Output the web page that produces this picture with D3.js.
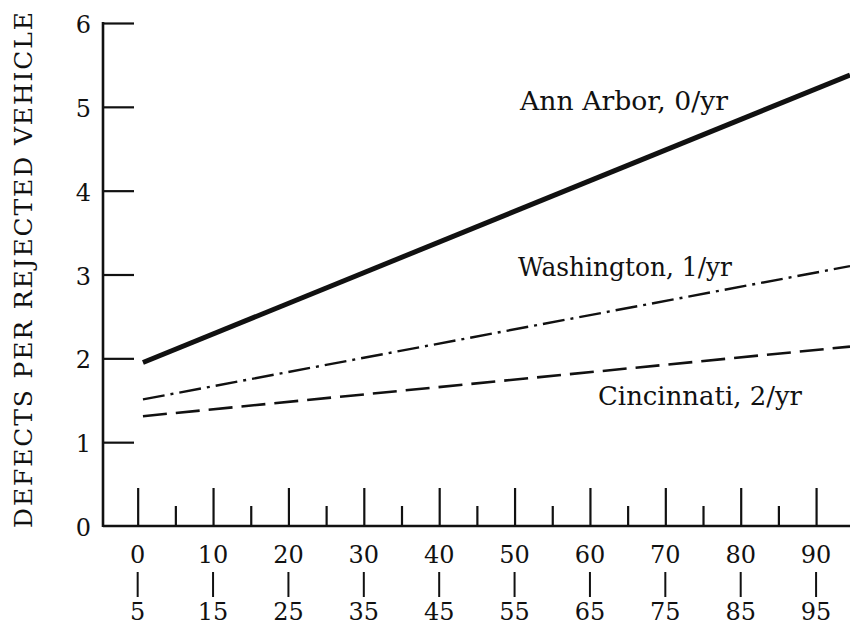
<!DOCTYPE html>
<html>
<head>
<meta charset="utf-8">
<script src="https://cdn.jsdelivr.net/npm/d3@7"></script>
<style>
  html, body { margin: 0; padding: 0; background: #fff; }
  svg { display: block; }
  text { font-family: "DejaVu Serif", serif; fill: #111; }
</style>
</head>
<body>
<svg id="chart" width="850" height="626"></svg>
<script>
// ---- data ----
const yTicks = [0, 1, 2, 3, 4, 5, 6];
const xMajorTicks = [0, 10, 20, 30, 40, 50, 60, 70, 80, 90];
const xMinorTicks = [5, 15, 25, 35, 45, 55, 65, 75, 85];
const xTopLabels = ["0", "10", "20", "30", "40", "50", "60", "70", "80", "90"];
const xBottomLabels = ["5", "15", "25", "35", "45", "55", "65", "75", "85", "95"];
const seriesNames = ["Ann Arbor, 0/yr", "Washington, 1/yr", "Cincinnati, 2/yr"];
const annArbor = [[0.7, 1.95], [94.5, 5.38]];
const washington = [[0.7, 1.51], [94.5, 3.10]];
const cincinnati = [[0.7, 1.31], [94.5, 2.14]];
const yTitle = "DEFECTS PER REJECTED VEHICLE";

// ---- layout ----
const svg = d3.select("#chart");
const x = d3.scaleLinear().domain([-4.6, 94.5]).range([103, 850]);
const y = d3.scaleLinear().domain([0, 6]).range([526, 23]);
const ink = "#111";

// y axis
const yAxis = d3.axisLeft(y).tickValues(yTicks).tickSize(-31).tickPadding(12).tickFormat(d3.format("d"));
const gy = svg.append("g").attr("transform", `translate(${x(-4.6)},0)`).call(yAxis);
gy.select(".domain").remove();
gy.selectAll(".tick line").attr("stroke", ink).attr("stroke-width", 2.2)
  .filter(d => d === 0).remove();
gy.selectAll(".tick text").attr("font-size", 24).attr("font-family", "DejaVu Serif").attr("fill", ink).attr("dy", "0.4em");
svg.append("line").attr("x1", x(-4.6)).attr("x2", x(-4.6)).attr("y1", y(6) - 1).attr("y2", y(0) + 1)
  .attr("stroke", ink).attr("stroke-width", 2.6);

// x axis (ticks pointing up)
const gxMajor = svg.append("g").attr("transform", `translate(0,${y(0)})`)
  .call(d3.axisBottom(x).tickValues(xMajorTicks).tickSize(-38).tickFormat(""));
gxMajor.select(".domain").remove();
gxMajor.selectAll(".tick line").attr("stroke", ink).attr("stroke-width", 2.2);
const gxMinor = svg.append("g").attr("transform", `translate(0,${y(0)})`)
  .call(d3.axisBottom(x).tickValues(xMinorTicks).tickSize(-20).tickFormat(""));
gxMinor.select(".domain").remove();
gxMinor.selectAll(".tick line").attr("stroke", ink).attr("stroke-width", 2.2);
svg.append("line").attr("x1", x(-4.6)).attr("x2", 850).attr("y1", y(0)).attr("y2", y(0))
  .attr("stroke", ink).attr("stroke-width", 2.6);

// two-line x labels
const lab = svg.append("g").selectAll("g").data(xMajorTicks).join("g")
  .attr("transform", d => `translate(${x(d)},0)`);
lab.append("text").attr("y", 563).attr("text-anchor", "middle").attr("font-size", 24)
  .text((d, i) => xTopLabels[i]);
lab.append("line").attr("x1", 0).attr("x2", 0).attr("y1", 572).attr("y2", 597)
  .attr("stroke", ink).attr("stroke-width", 2);
lab.append("text").attr("y", 620).attr("text-anchor", "middle").attr("font-size", 24)
  .text((d, i) => xBottomLabels[i]);

// y title
svg.append("text")
  .attr("transform", "translate(32,270) rotate(-90)")
  .attr("text-anchor", "middle").attr("font-size", 25)
  .attr("textLength", 516).attr("lengthAdjust", "spacing")
  .text(yTitle);

// lines
const line = d3.line().x(d => x(d[0])).y(d => y(d[1]));
svg.append("path").datum(annArbor).attr("d", line).attr("fill", "none")
  .attr("stroke", ink).attr("stroke-width", 5);
svg.append("path").datum(washington).attr("d", line).attr("fill", "none")
  .attr("stroke", ink).attr("stroke-width", 2.4).attr("stroke-dasharray", "22,6,3,6");
svg.append("path").datum(cincinnati).attr("d", line).attr("fill", "none")
  .attr("stroke", ink).attr("stroke-width", 2.6).attr("stroke-dasharray", "24,9");

// series labels
const labelPos = [[520, 110, 208], [518, 276, 214], [598, 405, 204]];
svg.append("g").selectAll("text").data(seriesNames).join("text")
  .attr("x", (d, i) => labelPos[i][0])
  .attr("y", (d, i) => labelPos[i][1])
  .attr("font-size", 26)
  .attr("textLength", (d, i) => labelPos[i][2])
  .attr("lengthAdjust", "spacingAndGlyphs")
  .text(d => d);
</script>
</body>
</html>
